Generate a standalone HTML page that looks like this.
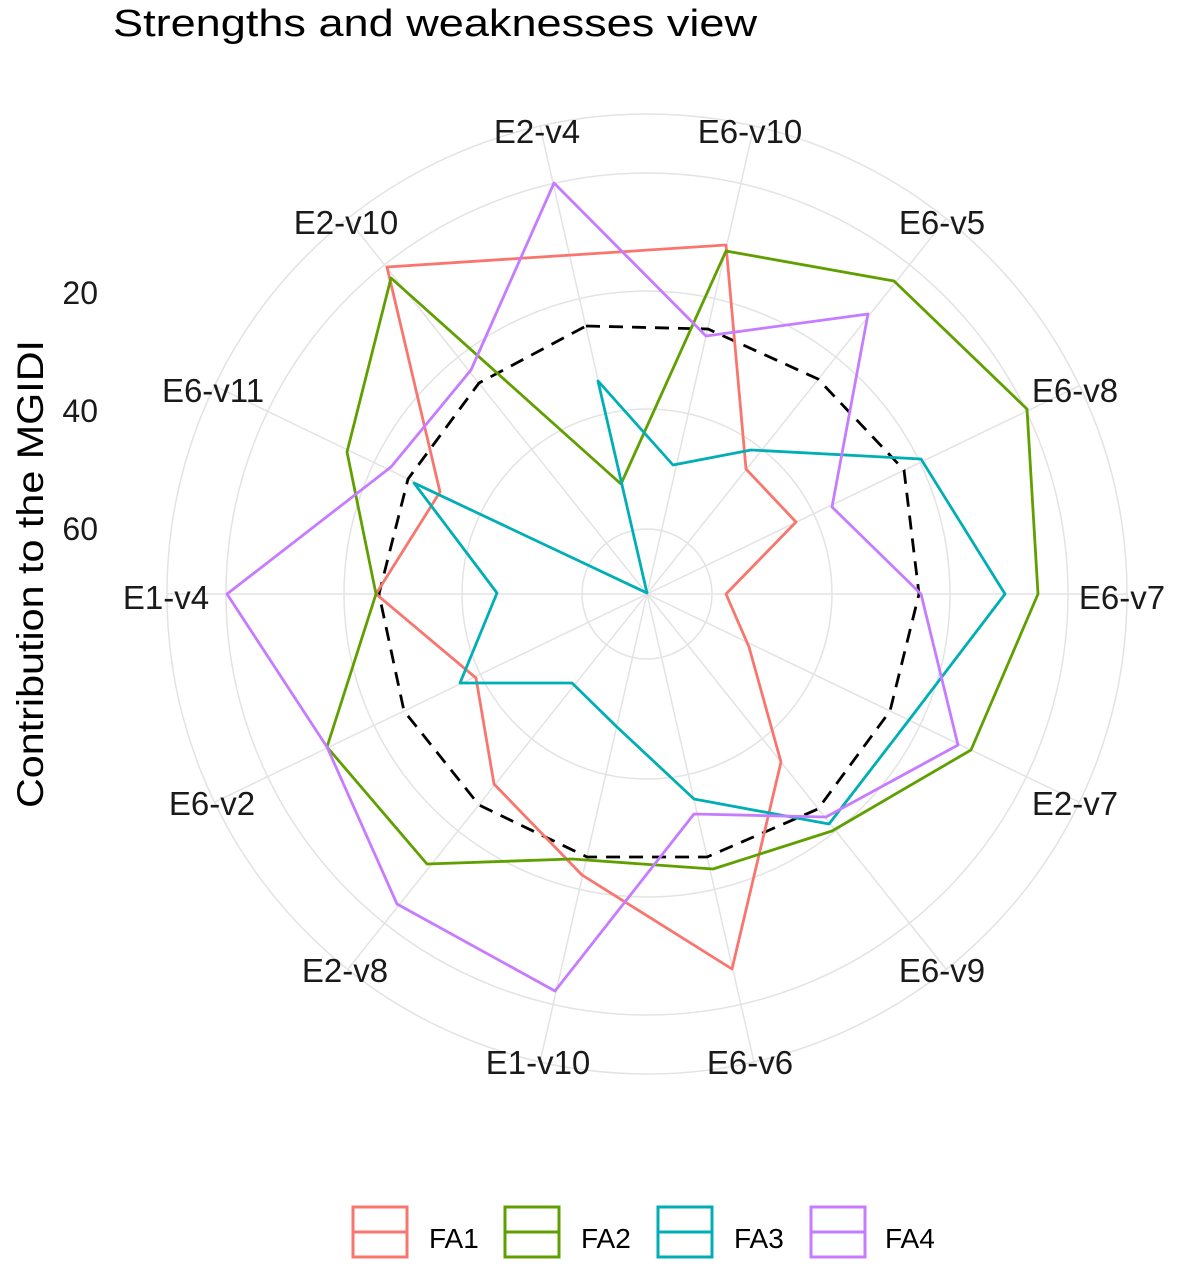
<!DOCTYPE html>
<html><head><meta charset="utf-8"><style>
html,body{margin:0;padding:0;background:#fff;}
svg{display:block;font-family:"Liberation Sans",Arial,sans-serif;}
</style></head><body>
<svg width="1181" height="1267" viewBox="0 0 1181 1267" xmlns="http://www.w3.org/2000/svg">
<rect width="1181" height="1267" fill="#fff"/>
<text x="113" y="36" font-size="38" fill="#000" textLength="644" lengthAdjust="spacingAndGlyphs">Strengths and weaknesses view</text>
<g fill="none" stroke="#e3e3e3" stroke-width="1.5">
<circle cx="647" cy="594" r="65"/>
<circle cx="647" cy="594" r="185"/>
<circle cx="647" cy="594" r="303"/>
<circle cx="647" cy="594" r="421"/>
<circle cx="647" cy="594" r="480"/>
<path d="M647 594L540 126M647 594L754 126M647 594L946 219M647 594L1079 386M647 594L1127 594M647 594L1079 802M647 594L946 969M647 594L754 1062M647 594L540 1062M647 594L348 969M647 594L215 802M647 594L167 594M647 594L215 386M647 594L348 219"/>
</g>
<g font-size="33" fill="#1a1a1a" text-anchor="middle">
<text x="537" y="143">E2-v4</text>
<text x="750" y="143">E6-v10</text>
<text x="942" y="234">E6-v5</text>
<text x="1075" y="402">E6-v8</text>
<text x="1122" y="609">E6-v7</text>
<text x="1075" y="815">E2-v7</text>
<text x="942" y="982">E6-v9</text>
<text x="750" y="1074">E6-v6</text>
<text x="538" y="1074">E1-v10</text>
<text x="345" y="982">E2-v8</text>
<text x="212" y="815">E6-v2</text>
<text x="166" y="609">E1-v4</text>
<text x="213" y="402">E6-v11</text>
<text x="346" y="234">E2-v10</text>
</g>
<g font-size="32" fill="#1a1a1a" text-anchor="end">
<text x="98" y="304">20</text>
<text x="98" y="422">40</text>
<text x="98" y="540">60</text>
</g>
<text transform="translate(43,574) rotate(-90)" font-size="37" fill="#000" text-anchor="middle" textLength="468" lengthAdjust="spacingAndGlyphs">Contribution to the MGIDI</text>
<g fill="none" stroke-linejoin="round" stroke-width="2.8">
<polygon stroke="#000" stroke-dasharray="14,9" points="586,326 708,329 818,379 904,470 919,594 890,711 818,809 707,857 587,857 479,805 404,711 379,594 408,479 479,383"/>
<polygon stroke="#F8766D" points="387,267 726,245 746,469 796,522 726,594 749,647 781,762 732,969 582,875 494,784 476,678 376,594 440,492"/>
<polygon stroke="#5fa000" points="621,484 726,251 894,281 1027,409 1038,594 971,750 832,831 713,869 572,859 427,864 327,747 376,594 347,452 391,278"/>
<polygon stroke="#00AEB5" points="598,381 673,465 751,450 921,459 1005,594 909,720 829,824 694,799 617,727 572,683 460,683 497,593 414,483 647,593"/>
<polygon stroke="#C77CFF" points="554,183 706,336 868,314 832,507 921,594 958,745 826,817 694,814 555,991 397,904 327,747 227,594 391,467 471,370"/>
</g>
<g stroke-width="3" fill="none">
<rect x="353" y="1207" width="54" height="50" stroke="#F8766D"/><line x1="353" y1="1232" x2="407" y2="1232" stroke="#F8766D"/>
<rect x="505" y="1207" width="54" height="50" stroke="#5fa000"/><line x1="505" y1="1232" x2="559" y2="1232" stroke="#5fa000"/>
<rect x="658" y="1207" width="54" height="50" stroke="#00AEB5"/><line x1="658" y1="1232" x2="712" y2="1232" stroke="#00AEB5"/>
<rect x="811" y="1207" width="54" height="50" stroke="#C77CFF"/><line x1="811" y1="1232" x2="865" y2="1232" stroke="#C77CFF"/>
</g>
<g font-size="28" fill="#000">
<text x="429" y="1248">FA1</text>
<text x="581" y="1248">FA2</text>
<text x="734" y="1248">FA3</text>
<text x="885" y="1248">FA4</text>
</g>
</svg>
</body></html>
